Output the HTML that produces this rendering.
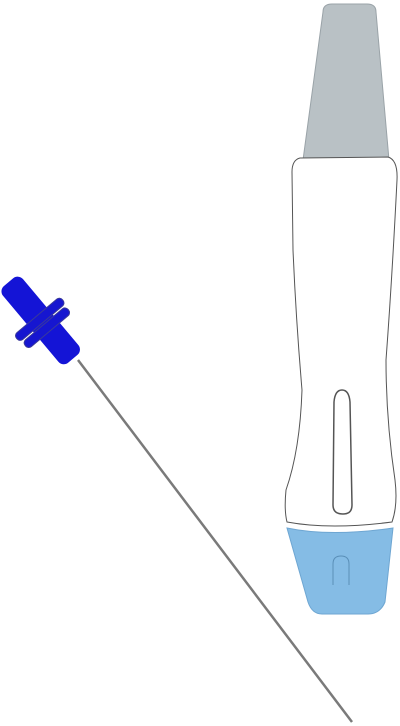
<!DOCTYPE html>
<html><head><meta charset="utf-8"><style>html,body{margin:0;padding:0;background:#fff}svg{display:block}</style></head>
<body>
<svg width="400" height="726" viewBox="0 0 400 726">
  <g>
    <path d="M323,12 Q323,4 332,4 L367,4 Q376,4 376,12 L389,160 L303,160 Z" fill="#b9c1c5" stroke="#9aa3a8" stroke-width="1"/>
    <path d="M300,158 Q292,160 292,172 L293,250 Q296,320 302,390 Q300,450 286,490 Q284,510 287,522 Q330,530 392,522 Q398,505 395,480 Q386,420 386,360 Q392,280 397,180 Q398,160 388,157 Z" fill="#fff" stroke="#555" stroke-width="1"/>
    <path d="M334,402 Q335,390 342,390 Q349,390 350,402 L352,505 Q352,514 343,514 Q333,514 333,505 Z" fill="#fff" stroke="#555" stroke-width="1.5"/>
    <path d="M287,528 Q330,537 393,528 L385,602 Q380,614 368,614 L322,614 Q312,614 308,602 Z" fill="#85bce5" stroke="#6ea6d2" stroke-width="1"/>
    <path d="M333,585 L333,564 Q333,556 341,556 Q349,556 349,564 L349,585" fill="none" stroke="#5a8fb8" stroke-width="1"/>
  </g>
  <g>
    <line x1="78" y1="360" x2="352" y2="722" stroke="#7a7a7a" stroke-width="2.5"/>
    <g transform="translate(42,322) rotate(-40)">
      <rect x="-13" y="-52" width="26" height="100" rx="7" fill="#1414d6"/>
      <rect x="-30" y="-8" width="60" height="9" rx="4" fill="#1616d0" stroke="#3a3a9a" stroke-width="1"/>
      <rect x="-28" y="3" width="56" height="9" rx="4" fill="#1616d0" stroke="#3a3a9a" stroke-width="1"/>
    </g>
  </g>
</svg>
</body></html>
